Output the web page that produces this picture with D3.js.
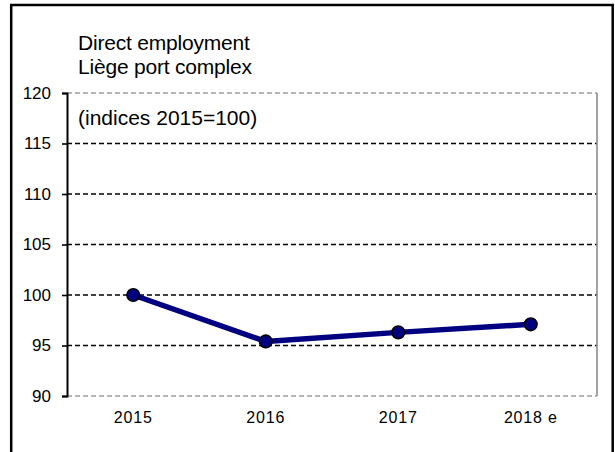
<!DOCTYPE html>
<html>
<head>
<meta charset="utf-8">
<script src="https://cdn.jsdelivr.net/npm/d3@7"></script>
<style>
  html, body { margin: 0; padding: 0; background: #fff; }
  svg { display: block; font-family: "Liberation Sans", Arial, sans-serif; }
</style>
</head>
<body>
<svg id="chart" width="615" height="452"></svg>
<script>
// Direct employment, Liège port complex (index 2015 = 100)
const years = ["2015", "2016", "2017", "2018 e"];
const indexValues = [100, 95.4, 96.3, 97.1];
const yTicks = [90, 95, 100, 105, 110, 115, 120];
const titleLines = ["Direct employment", "Liège port complex"];
const subtitle = "(indices 2015=100)";

const svg = d3.select("#chart");
const plot = { left: 67, right: 597, top: 93, bottom: 396 };

// Outer frame
svg.append("rect")
  .attr("x", 11.2).attr("y", 5)
  .attr("width", 601.5).attr("height", 460)
  .attr("fill", "none").attr("stroke", "#000").attr("stroke-width", 2.5);

const x = d3.scaleBand().domain(years).range([plot.left, plot.right]);
const y = d3.scaleLinear().domain([90, 120]).range([plot.bottom, plot.top]);

// Horizontal gridlines (inner ticks dashed black, outer limits light grey)
svg.append("g").selectAll("line")
  .data(yTicks)
  .join("line")
  .attr("x1", plot.left).attr("x2", plot.right)
  .attr("y1", d => y(d)).attr("y2", d => y(d))
  .attr("stroke", d => (d === 90 || d === 120) ? "#a0a0a0" : "#000")
  .attr("stroke-width", d => (d === 90 || d === 120) ? 1.6 : 1.5)
  .attr("stroke-dasharray", "5,3");

// Right border of the plot area
svg.append("line")
  .attr("x1", plot.right).attr("x2", plot.right)
  .attr("y1", plot.top).attr("y2", plot.bottom)
  .attr("stroke", "#8c8c8c").attr("stroke-width", 1.6);

// Left value axis
const yAxis = d3.axisLeft(y).tickValues(yTicks).tickSize(5).tickPadding(11);
const gy = svg.append("g").attr("transform", `translate(${plot.left},0)`).call(yAxis);
gy.select(".domain").attr("stroke", "#000").attr("stroke-width", 2);
gy.selectAll(".tick line").attr("stroke", "#000").attr("stroke-width", 1.6);
gy.selectAll(".tick text")
  .attr("fill", "#000")
  .style("font-size", "17px")
  .style("font-family", "'Liberation Sans', Arial, sans-serif");

// Category labels
const xAxis = d3.axisBottom(x).tickSize(0).tickPadding(16);
const gx = svg.append("g").attr("transform", `translate(0,${plot.bottom})`).call(xAxis);
gx.select(".domain").remove();
gx.selectAll(".tick text")
  .attr("fill", "#000")
  .style("font-size", "16px")
  .style("letter-spacing", "0.8px")
  .style("font-family", "'Liberation Sans', Arial, sans-serif");

// Series line
const cx = d => x(d) + x.bandwidth() / 2;
const line = d3.line()
  .x((d, i) => cx(years[i]))
  .y(d => y(d));
svg.append("path")
  .datum(indexValues)
  .attr("d", line)
  .attr("fill", "none")
  .attr("stroke", "#000080")
  .attr("stroke-width", 5.5)
  .attr("stroke-linejoin", "round");

svg.append("g").selectAll("circle")
  .data(indexValues)
  .join("circle")
  .attr("cx", (d, i) => cx(years[i]))
  .attr("cy", d => y(d))
  .attr("r", 6.3)
  .attr("fill", "#000080")
  .attr("stroke", "#000")
  .attr("stroke-width", 1.6);

// Titles
svg.append("g").selectAll("text")
  .data(titleLines)
  .join("text")
  .attr("x", 78)
  .attr("y", (d, i) => 50 + i * 23.5)
  .attr("fill", "#000")
  .style("font-size", "21px")
  .style("letter-spacing", "-0.2px")
  .text(d => d);

svg.append("text")
  .attr("x", 78).attr("y", 125)
  .attr("fill", "#000")
  .style("font-size", "21px")
  .text(subtitle);
</script>
</body>
</html>
